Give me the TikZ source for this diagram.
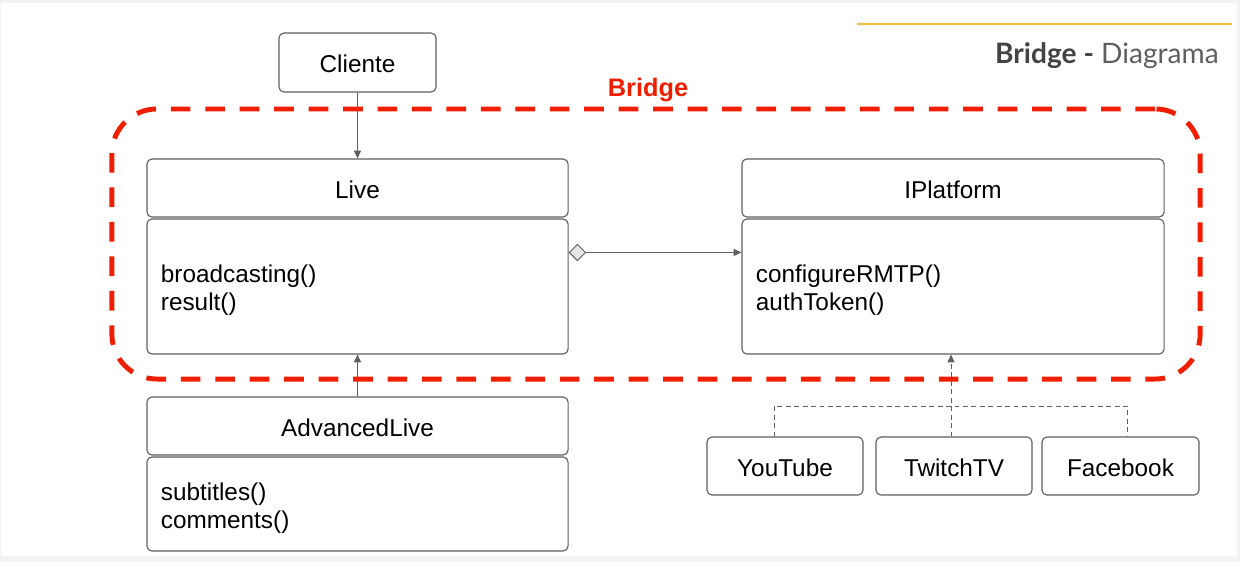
\documentclass[tikz,border=0pt]{standalone}
\usepackage{fontspec}
\setmainfont{Liberation Sans}
\newfontfamily\titlefont{Lato}
\usetikzlibrary{arrows.meta, positioning, calc}
\definecolor{frameline}{HTML}{5F5F5F}
\definecolor{bridgered}{HTML}{F01E00}
\definecolor{goldline}{HTML}{F1BE3F}
\definecolor{pagegray}{HTML}{F3F3F3}
\definecolor{titlegray}{HTML}{434343}

\begin{document}
\begin{tikzpicture}[x=0.025cm, y=-0.025cm,
    umlbox/.style={draw=frameline, line width=0.8pt, rounded corners=3.5pt, fill=white,
        inner sep=0pt, font=\fontsize{17.3}{20}\selectfont},
    classbox/.style={umlbox, text height=14.5pt, text depth=0pt},
    opsbox/.style={umlbox, inner xsep=0.35cm, text width=9.825cm, align=left, text height=18pt},
    conn/.style={draw=frameline, line width=0.7pt},
    headtip/.tip={Triangle[length=5.5pt, width=5pt]}]

\fill[pagegray] (0,0) rectangle (1240,562);
\fill[white] (1,3) rectangle (1237,556);
\useasboundingbox (0,0) rectangle (1240,562);

% title in the corner
\draw[goldline, line width=1.6pt] (857,24) -- (1232,24);
\node[anchor=base east, inner sep=0pt, font=\titlefont\fontsize{20}{24}\selectfont] (title) at (1219,63)
    {\textcolor{titlegray}{\bfseries Bridge -} \textcolor{titlegray!85}{Diagrama}};

% the bridge frame
\node[draw=bridgered, line width=3.5pt, dash pattern=on 14pt off 10.5pt, rounded corners=32pt,
    minimum width=27.2cm, minimum height=6.75cm] (bridgebox) at (656,244) {};
\node[text=bridgered, font=\bfseries\fontsize{18}{20}\selectfont] (bridgelbl) at (648,90) {Bridge};

% classes
\node[classbox, minimum width=3.925cm, minimum height=1.475cm] (cliente) at (357.5,62.5) {Cliente};

\node[classbox, minimum width=10.525cm, minimum height=1.45cm] (live) at (357.5,188) {Live};
\node[opsbox, minimum height=3.375cm] (liveops) at (357.5,286.5) {broadcasting()\\result()};

\node[classbox, minimum width=10.55cm, minimum height=1.45cm] (platform) at (953,188) {IPlatform};
\node[opsbox, text width=9.85cm, minimum height=3.375cm] (platformops) at (953,286.5) {configureRMTP()\\authToken()};

\node[classbox, minimum width=10.525cm, minimum height=1.45cm] (advlive) at (357.5,426) {AdvancedLive};
\node[opsbox, minimum height=2.35cm] (advops) at (357.5,504) {subtitles()\\comments()};

\node[classbox, minimum width=3.9cm, minimum height=1.45cm] (youtube) at (785,466) {YouTube};
\node[classbox, minimum width=3.9cm, minimum height=1.45cm] (twitch) at (954,466) {TwitchTV};
\node[classbox, minimum width=3.925cm, minimum height=1.45cm] (facebook) at (1120.5,466) {Facebook};

% relations
\draw[conn, -headtip] (cliente) -- (live);
\draw[conn, {Diamond[length=12.5pt, width=12.5pt, fill=black!10]}-headtip]
    ($(liveops.north east)!0.25!(liveops.south east)$) -- ($(platformops.north west)!0.25!(platformops.south west)$);
\draw[conn, -headtip] (advlive) -- (liveops);

\coordinate (split) at (951,406);
\draw[conn, dash pattern=on 3.5pt off 2.5pt] ([xshift=-0.275cm]youtube.north) |- (split)
    -| ([xshift=0.175cm]facebook.north);
\draw[conn, dash pattern=on 3.5pt off 2.5pt, -headtip] ([xshift=-0.075cm]twitch.north)
    -- ([xshift=-0.075cm]twitch.north |- platformops.south);

\end{tikzpicture}
\end{document}
